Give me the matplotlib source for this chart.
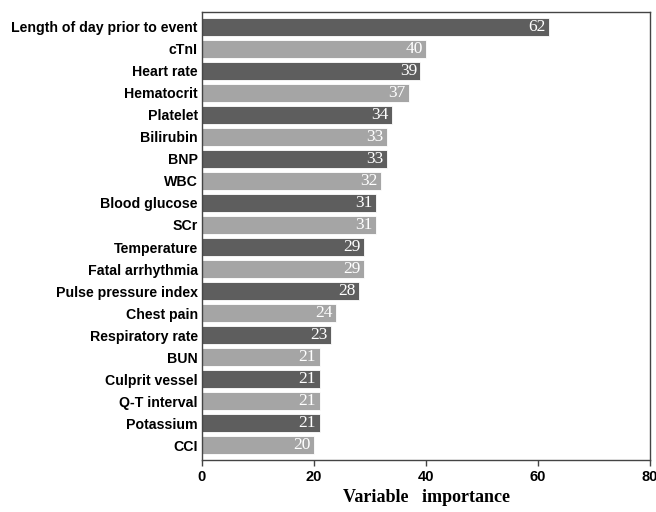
import matplotlib
matplotlib.use("Agg")
import matplotlib.pyplot as plt

variables = ["Length of day prior to event", "cTnI", "Heart rate", "Hematocrit",
             "Platelet", "Bilirubin", "BNP", "WBC", "Blood glucose", "SCr",
             "Temperature", "Fatal arrhythmia", "Pulse pressure index", "Chest pain",
             "Respiratory rate", "BUN", "Culprit vessel", "Q-T interval",
             "Potassium", "CCI"]
importance = [62, 40, 39, 37, 34, 33, 33, 32, 31, 31, 29, 29, 28, 24, 23, 21, 21, 21, 21, 20]

DARK = "#5e5e5e"
LIGHT = "#a5a5a5"

fig = plt.figure(figsize=(6.56, 5.12), dpi=100)
ax = fig.add_axes([202 / 656, 52 / 512, 448 / 656, 448 / 512])

n = len(variables)
ypos = list(range(n - 1, -1, -1))
colors = [DARK if i % 2 == 0 else LIGHT for i in range(n)]
ax.barh(ypos, importance, height=0.82, color=colors, edgecolor="white", linewidth=0.6)

for y, v in zip(ypos, importance):
    ax.text(v - 0.6, y, str(v), ha="right", va="center",
            color="white", fontsize=12.5, family="Liberation Serif")

ax.set_yticks(ypos)
ax.set_yticklabels(variables, fontsize=10.2, fontweight="bold", family="Liberation Sans")
ax.tick_params(axis="y", length=0, pad=3)
ax.set_ylim(-0.68, n - 0.32)

ax.set_xlim(0, 80)
ax.set_xticks([0, 20, 40, 60, 80])
ax.set_xticklabels(["0", "20", "40", "60", "80"], fontsize=10.5, fontweight="bold",
                   family="Liberation Sans")
ax.tick_params(axis="x", direction="out", length=4, width=1, color="#444444", pad=3)
ax.set_xlabel("Variable   importance", fontsize=13, fontweight="bold",
              family="Liberation Serif", labelpad=4)

for s in ax.spines.values():
    s.set_color("#444444")
    s.set_linewidth(1)

fig.savefig("out.png", dpi=100)
